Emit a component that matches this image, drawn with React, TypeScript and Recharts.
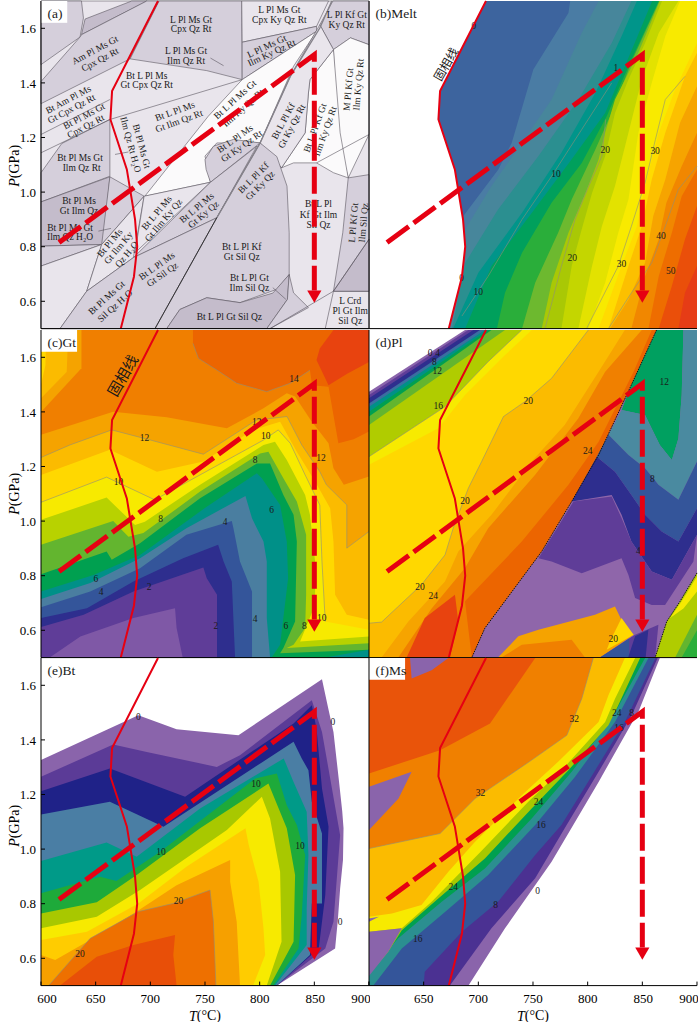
import React from "react";
import { Scatter, ScatterChart, XAxis, YAxis } from "recharts";

type Pt = [number, number];

const tempTicks = [600, 650, 700, 750, 800, 850, 900];
const pressTicks = [0.6, 0.8, 1.0, 1.2, 1.4, 1.6];

// solidus and the P-T path, same in all six panels
const solidus: Pt[] = [[707, 1.7], [665, 1.37], [663.5, 1.266], [678.5, 1.083], [686, 0.9], [688, 0.8], [685, 0.69], [673, 0.5]];
const ptPath: Pt[] = [[616.5, 0.815], [850, 1.503], [850, 0.64]];
const arrowHead: Pt[] = [[843.5, 0.64], [856.5, 0.64], [850, 0.595]];

const LIGHT = "#e9e5ec";
const MID = "#d5cfdb";
const DARK = "#c4bccb";
const WHITE = "#fbfafb";

// (a) pseudosection fields
const phaseFields: Pt[][] = [
  [[600, 1.7], [900, 1.7], [900, 0.5], [600, 0.5]],
  [[600, 1.7], [637, 1.7], [638.8, 1.638], [635.7, 1.568], [600, 1.467]],
  [[637, 1.577], [640.3, 1.634], [683, 1.7], [697, 1.7]],
  [[600, 1.405], [635.7, 1.568], [637.2, 1.577], [696.7, 1.7], [708, 1.7], [681.5, 1.488], [600, 1.324]],
  [[708, 1.7], [783.6, 1.7], [784, 1.412], [751.6, 1.445], [681.5, 1.488]],
  [[783.6, 1.7], [863, 1.7], [852, 1.607], [784, 1.549]],
  [[784, 1.549], [852, 1.607], [852, 1.589], [784, 1.412]],
  [[784, 1.412], [852, 1.589], [831, 1.461], [800.4, 1.18], [760.8, 1.18], [750, 1.132], [755, 1.036], [695, 0.985], [753, 1.278]],
  [[800.4, 1.18], [776, 1.193], [757.7, 1.168], [750, 1.119], [751, 1.083], [755, 1.036]],
  [[867, 1.7], [900, 1.7], [900, 1.54], [883, 1.565], [867.5, 1.522], [855, 1.613]],
  [[867.5, 1.522], [883, 1.565], [900, 1.54], [900, 1.211], [881, 1.052], [870.5, 1.217]],
  [[846, 1.412], [867.5, 1.522], [873.6, 1.217], [881, 1.052], [867.5, 1.071], [852, 1.107], [831, 1.107], [820, 1.089], [841.6, 1.217], [844.6, 1.363]],
  [[828, 1.424], [855, 1.613], [867.5, 1.522], [846, 1.412], [844.6, 1.363], [841.6, 1.217], [820, 1.089], [800.4, 1.18]],
  [[600, 1.071], [619, 1.178], [663, 1.266], [663, 1.058], [600, 0.964]],
  [[600, 0.964], [663, 1.056], [657, 0.808], [600, 0.802]],
  [[600, 0.802], [655.5, 0.808], [600, 0.729]],
  [[663, 1.056], [694.3, 0.985], [655.5, 0.808]],
  [[600, 0.729], [655.5, 0.808], [641.8, 0.637], [617.4, 0.5], [600, 0.5]],
  [[655.5, 0.808], [694.3, 0.985], [684.5, 0.76], [641.8, 0.637]],
  [[694.3, 0.985], [755, 1.036], [686, 0.778]],
  [[755, 1.036], [797.4, 1.168], [760.8, 0.906], [684.5, 0.76]],
  [[800.4, 1.18], [820, 1.089], [760.8, 0.906]],
  [[617.4, 0.5], [641.8, 0.637], [684.5, 0.76], [760.8, 0.906], [704.3, 0.5]],
  [[800.4, 1.18], [815.7, 1.13], [825, 1.022], [827, 0.851], [827, 0.698], [815.7, 0.644], [782, 0.595], [751.6, 0.613], [727, 0.57], [715, 0.5], [704.3, 0.5], [760.8, 0.906]],
  [[715, 0.5], [727, 0.57], [751.6, 0.613], [782, 0.595], [812, 0.63], [827, 0.698], [825.4, 0.607], [806.5, 0.5]],
  [[827, 0.698], [831, 0.631], [844.6, 0.577], [809.5, 0.5], [806.5, 0.5], [825.4, 0.607]],
  [[867.5, 0.637], [900, 0.637], [900, 0.5], [860, 0.5]],
  [[881, 1.052], [900, 1.064], [900, 0.637], [867.5, 0.637], [876, 0.851]],
  [[900, 0.827], [867.5, 0.637], [900, 0.637]],
];
const phaseFills = [LIGHT, MID, DARK, MID, MID, LIGHT, MID, WHITE, MID, MID, WHITE, WHITE, LIGHT, MID, DARK, MID, MID, LIGHT, LIGHT, LIGHT, MID, MID, MID, MID, DARK, MID, LIGHT, MID, DARK];
const phaseLines: Pt[][] = [
  [[809.5, 0.5], [867.5, 0.637], [900, 0.827]],
  [[900, 1.211], [852, 1.107]],
  [[600, 1.144], [663, 1.266], [784, 1.412]],
  [[600, 1.211], [663, 1.339]],
  [[755, 1.491], [767, 1.463]],
  [[667.7, 1.138], [680, 1.147]],
  [[652.5, 0.857], [664, 0.867]],
  [[812, 0.65], [824, 0.607]],
];
const kySilLine: Pt[] = [[866, 1.7], [855, 1.601], [828, 1.424], [800.4, 1.18], [760.8, 0.906]];
const kySilLower: Pt[] = [[760.8, 0.906], [704.3, 0.5]];

type Lab = { text: string; t: number; p: number; rot?: number };

const phaseLabels: Lab[] = [
  { text: "L Pl Ms Gt", t: 737.3, p: 1.632 }, { text: "Cpx Qz Rt", t: 737.3, p: 1.598 },
  { text: "L Pl Ms Gt", t: 818, p: 1.668 }, { text: "Cpx Ky Qz Rt", t: 818, p: 1.629 },
  { text: "L Pl Kf Gt", t: 879.7, p: 1.648 }, { text: "Ky Qz Rt", t: 879.7, p: 1.611 },
  { text: "Am Pl Ms Gt", t: 649.4, p: 1.52, rot: -28 }, { text: "Cpx Qz Rt", t: 654, p: 1.485, rot: -28 },
  { text: "L Pl Ms Gt", t: 732.7, p: 1.516 }, { text: "Ilm Qz Rt", t: 732.7, p: 1.479 },
  { text: "L Pl Ms Gt", t: 806.5, p: 1.534, rot: -25 }, { text: "Ilm Ky Qz Rt", t: 811, p: 1.51, rot: -25 },
  { text: "Bt L Pl Ms", t: 696.7, p: 1.427 }, { text: "Gt Cpx Qz Rt", t: 696.7, p: 1.394 },
  { text: "Bt Am Pl Ms", t: 625, p: 1.339, rot: -28 }, { text: "Gt Cpx Qz Rt", t: 628, p: 1.305, rot: -28 },
  { text: "Bt Pl Ms Gt", t: 639.4, p: 1.278, rot: -28 }, { text: "Cpx Qz Rt", t: 641, p: 1.241, rot: -28 },
  { text: "Bt L Pl Ms", t: 722.6, p: 1.296, rot: -20 }, { text: "Gt Ilm Qz Rt", t: 726.3, p: 1.26, rot: -20 },
  { text: "Bt Pl Ms Gt", t: 692, p: 1.168, rot: 75 }, { text: "Ilm Qz Rt H₂O", t: 682, p: 1.174, rot: 75 },
  { text: "Bt Pl Ms Gt", t: 635.7, p: 1.126 }, { text: "Ilm Qz Rt", t: 637.2, p: 1.089 },
  { text: "Bt L Pl Ms Gt", t: 777.5, p: 1.339, rot: -42 }, { text: "Ilm Ky Qz Rt", t: 785, p: 1.308, rot: -42 },
  { text: "Bt L Pl Ms", t: 777.5, p: 1.195, rot: -35 }, { text: "Gt Ky Qz Rt", t: 783.6, p: 1.168, rot: -35 },
  { text: "Bt L Pl Kf", t: 821.7, p: 1.26, rot: -62 }, { text: "Gt Ky Qz Rt", t: 829.4, p: 1.241, rot: -62 },
  { text: "Bt L Pl Kf Gt", t: 850.7, p: 1.235, rot: -70 }, { text: "Ilm Ky Qz Rt", t: 860, p: 1.223, rot: -70 },
  { text: "M Pl Kf Gt", t: 881.2, p: 1.376, rot: -85 }, { text: "Ilm Ky Qz Rt", t: 890.4, p: 1.394, rot: -85 },
  { text: "Bt L Pl Kf", t: 794.3, p: 1.052, rot: -45 }, { text: "Gt Ky Qz", t: 800.4, p: 1.024, rot: -45 },
  { text: "Bt L Pl Ms", t: 742.5, p: 0.942, rot: -40 }, { text: "Gt Ky Qz", t: 748.6, p: 0.918, rot: -40 },
  { text: "Bt L Pl Ms", t: 705.9, p: 0.924, rot: -50 }, { text: "Gt Ilm Ky Qz", t: 712, p: 0.897, rot: -50 },
  { text: "Bt Pl Ms", t: 634.8, p: 0.967 }, { text: "Gt Ilm Qz", t: 634.8, p: 0.93 },
  { text: "Bt Pl Ms Gt", t: 626.6, p: 0.869 }, { text: "Ilm Qz H₂O", t: 626.6, p: 0.835 },
  { text: "Bt Pl Ms", t: 663, p: 0.814, rot: -50 }, { text: "Gt Ilm Ky", t: 670.8, p: 0.796, rot: -50 }, { text: "Qz H₂O", t: 678.4, p: 0.772, rot: -50 },
  { text: "Bt L Pl", t: 853.8, p: 0.955 }, { text: "Kf Gt Ilm", t: 853.8, p: 0.916 }, { text: "Sil Qz", t: 853.8, p: 0.879 },
  { text: "L Pl Kf Gt", t: 885.8, p: 0.888, rot: -85 }, { text: "Ilm Sil Qz", t: 895, p: 0.888, rot: -85 },
  { text: "Bt L Pl Kf", t: 783.6, p: 0.799 }, { text: "Gt Sil Qz", t: 783.6, p: 0.763 },
  { text: "Bt L Pl Gt", t: 790.6, p: 0.686 }, { text: "Ilm Sil Qz", t: 790.6, p: 0.65 },
  { text: "Bt L Pl Ms", t: 705.9, p: 0.729, rot: -35 }, { text: "Gt Sil Qz", t: 711, p: 0.698, rot: -35 },
  { text: "Bt Pl Ms Gt", t: 660, p: 0.613, rot: -42 }, { text: "Sil Qz H₂O", t: 667.7, p: 0.583, rot: -42 },
  { text: "Bt L Pl Gt Sil Qz", t: 772.3, p: 0.542 },
  { text: "L Crd", t: 882.8, p: 0.601 }, { text: "Pl Gt Ilm", t: 882.8, p: 0.564 }, { text: "Sil Qz", t: 882.8, p: 0.528 },
];

// (b) melt, each edge runs top to bottom, everything to its right gets the colour
const meltEdges: Pt[][] = [
  solidus,
  [[784, 1.7], [782.4, 1.656], [750.3, 1.449], [730.5, 1.18], [718.3, 1.083], [686.3, 0.912], [688, 0.8], [685, 0.69], [673, 0.5]],
  [[810, 1.7], [794.5, 1.583], [767, 1.339], [739.7, 1.18], [712, 1.022], [688, 0.863], [688, 0.8], [685, 0.69], [673, 0.5]],
  [[840, 1.7], [822, 1.546], [791.5, 1.339], [755, 1.132], [718, 0.936], [688, 0.741], [676, 0.5]],
  [[845, 1.7], [831, 1.571], [807, 1.363], [776, 1.144], [740, 0.924], [700, 0.705], [677, 0.5]],
  [[859, 1.7], [843, 1.546], [816, 1.29], [785.4, 1.12], [749, 0.924], [712, 0.729], [688, 0.5]],
  [[865, 1.7], [840, 1.485], [817.4, 1.278], [794.6, 1.107], [767, 0.961], [740, 0.778], [724.4, 0.631], [717, 0.5]],
  [[865.5, 1.7], [841, 1.485], [820.5, 1.278], [807, 1.156], [785.4, 0.973], [773, 0.851], [752, 0.668], [740, 0.5]],
  [[866, 1.7], [845, 1.498], [825, 1.339], [816, 1.217], [810, 1.119], [798, 0.997], [782.4, 0.851], [767, 0.668], [758, 0.5]],
  [[868, 1.7], [852.5, 1.546], [837.3, 1.412], [825, 1.29], [816, 1.132], [804, 0.997], [794.5, 0.863], [785.4, 0.729], [776, 0.5]],
  [[883, 1.7], [865, 1.583], [849.5, 1.412], [837.3, 1.217], [825, 1.022], [813, 0.875], [804, 0.729], [791.5, 0.5]],
  [[884.5, 1.7], [871, 1.571], [858.6, 1.4], [846.4, 1.217], [837.3, 0.973], [828, 0.851], [816, 0.668], [800.6, 0.5]],
  [[900, 1.546], [880, 1.376], [865, 1.217], [852.5, 1.022], [845, 0.875], [831, 0.729], [810, 0.5]],
  [[900, 1.51], [889, 1.424], [871, 1.217], [858.6, 1.046], [849.5, 0.875], [837.3, 0.729], [819, 0.5]],
  [[900, 1.388], [884.5, 1.254], [871, 1.046], [860, 0.912], [852.5, 0.741], [837.3, 0.607], [820.5, 0.5]],
  [[900, 1.217], [886, 1.095], [872, 0.961], [865, 0.827], [852.5, 0.692], [840, 0.5]],
  [[900, 1.083], [886, 0.985], [877, 0.851], [865, 0.692], [855.6, 0.5]],
  [[900, 0.949], [889, 0.827], [877, 0.656], [865, 0.5]],
  [[900, 0.729], [889, 0.631], [883, 0.5]],
];
const meltColors = ["#3d649e", "#4a7ca4", "#47869b", "#2b8f90", "#00958a", "#00a05c", "#2aae3a", "#6db92f", "#a9c805", "#c4d600", "#e3e200", "#f8ea00", "#ffdb00", "#fcc000", "#f6a400", "#f18700", "#ee6d00", "#ea4f0a", "#e63c16"];
const meltContours: Pt[][] = [
  [[822, 1.4], [794.5, 1.229], [767, 1.058], [740, 0.9], [709, 0.692], [685, 0.546]],
  [[816.5, 1.266], [813, 1.132], [801, 1.022], [788.5, 0.9], [776, 0.729], [761, 0.5]],
  [[889, 1.424], [871, 1.339], [862, 1.193], [852.5, 1.034], [840, 0.875], [828, 0.729], [799, 0.5]],
  [[900, 1.095], [883, 1.01], [871, 0.875], [858.6, 0.741], [840, 0.631], [819, 0.5]],
];
const meltLabels: Lab[] = [
  { text: "0", t: 696, p: 1.61 }, { text: "0", t: 684.8, p: 0.686 }, { text: "1", t: 825.7, p: 1.455 },
  { text: "10", t: 771, p: 1.068 }, { text: "10", t: 700, p: 0.635 }, { text: "20", t: 816, p: 1.156 },
  { text: "20", t: 786, p: 0.76 }, { text: "30", t: 861.7, p: 1.152 }, { text: "30", t: 831, p: 0.738 },
  { text: "40", t: 867, p: 0.839 }, { text: "50", t: 876, p: 0.711 },
];

// (c) garnet, painted outermost first
const gtShapes: Pt[][] = [
  [[600, 1.7], [900, 1.7], [900, 0.5], [600, 0.5]],
  [[600, 1.7], [637, 1.7], [637, 1.56], [600, 1.4]],
  [[600, 1.7], [625, 1.7], [623.5, 1.546], [600, 1.45]],
  [[600, 1.7], [605, 1.7], [604, 1.57], [600, 1.5]],
  [[739, 1.7], [739, 1.651], [744, 1.596], [761, 1.553], [779, 1.505], [806.5, 1.474], [828, 1.505], [846, 1.553], [848, 1.498], [863, 1.492], [867.5, 1.388], [872, 1.285], [886, 1.3], [900, 1.328], [900, 1.7]],
  [[867.5, 1.7], [855, 1.632], [852, 1.59], [863, 1.498], [880, 1.54], [900, 1.583], [900, 1.7]],
  [[600, 1.316], [666, 1.401], [715, 1.38], [770, 1.34], [803.5, 1.413], [824.8, 1.468], [832.4, 1.456], [847.7, 1.364], [863, 1.285], [867.5, 1.194], [877, 1.133], [900, 1.163], [900, 0.5], [600, 0.5]],
  [[600, 1.233], [626.5, 1.279], [664.7, 1.334], [700, 1.297], [748.5, 1.245], [797, 1.37], [825, 1.383], [838.5, 1.279], [855, 1.181], [861, 1.133], [879.7, 1.059], [879.7, 0.901], [900, 0.962], [900, 0.5], [600, 0.5]],
  [[600, 1.169], [663, 1.261], [706, 1.181], [748.5, 1.218], [794, 1.334], [818.7, 1.364], [834, 1.254], [850.7, 1.145], [864.5, 1.047], [867.5, 0.925], [869, 0.73], [879.7, 0.657], [900, 0.639], [900, 0.5], [600, 0.5]],
  [[600, 1.069], [660, 1.161], [704, 1.078], [803.5, 1.297], [817, 1.334], [828, 1.285], [841.6, 1.169], [855, 1.059], [857, 0.852], [860, 0.632], [900, 0.602], [900, 0.5], [600, 0.5]],
  [[600, 1.005], [660, 1.086], [686, 0.986], [695, 0.998], [745.5, 1.133], [803.5, 1.279], [814, 1.291], [824.8, 1.224], [841.6, 1.096], [846, 1.023], [850.7, 0.852], [850.7, 0.693], [837, 0.559], [900, 0.577], [900, 0.5], [600, 0.5]],
  [[600, 0.913], [666, 1.0], [680, 0.943], [693.6, 0.956], [745.5, 1.108], [800.4, 1.248], [808, 1.254], [821.7, 1.157], [834, 1.072], [842.5, 0.95], [842.5, 0.73], [841.6, 0.608], [831, 0.547], [824.8, 0.535], [900, 0.553], [900, 0.5], [600, 0.5]],
  [[600, 0.805], [660, 0.889], [664.7, 0.858], [690.6, 0.919], [745.5, 1.084], [797.4, 1.211], [809.5, 1.211], [821.7, 1.096], [831, 1.023], [834, 0.925], [832.4, 0.632], [821.7, 0.535], [818.7, 0.516], [900, 0.529], [900, 0.5], [600, 0.5]],
  [[600, 0.742], [648, 0.803], [690.6, 0.876], [751.6, 1.053], [797.4, 1.175], [802, 1.157], [818.7, 1.059], [824.8, 0.925], [826, 0.79], [818.7, 0.547], [811, 0.5], [600, 0.5]],
  [[860, 0.5], [900, 0.529], [900, 0.5]],
  [[600, 0.715], [645, 0.773], [690.6, 0.864], [733, 0.974], [787, 1.092], [793, 1.01], [803.5, 0.925], [806.5, 0.852], [806.5, 0.645], [809.5, 0.5], [600, 0.5]],
  [[600, 0.684], [645, 0.742], [690.6, 0.827], [733, 0.95], [774.5, 1.0], [776, 0.974], [782, 0.852], [793, 0.742], [793, 0.5], [600, 0.5]],
  [[600, 0.645], [642, 0.681], [684.5, 0.779], [730, 0.864], [762, 0.913], [767, 0.852], [774.5, 0.779], [777.5, 0.5], [600, 0.5]],
  [[600, 0.612], [639, 0.657], [684.5, 0.742], [748.5, 0.83], [751.6, 0.791], [761, 0.73], [761, 0.5], [600, 0.5]],
  [[608, 0.5], [636, 0.577], [684.5, 0.645], [722.6, 0.681], [724, 0.608], [729.6, 0.5]],
];
const gtColors = ["#f07f00", "#f5a300", "#fbbb00", "#ffd800", "#ec6500", "#e8430f", "#f5a300", "#fbbb00", "#ffd800", "#f7ea00", "#b8d200", "#63b52f", "#00a050", "#009088", "#009088", "#4a7ea0", "#34559a", "#2e2e8e", "#5f3d98", "#7f58a6"];
const gtContours: Pt[][] = [
  [[739, 1.651], [744, 1.596], [761, 1.553], [779, 1.505], [806.5, 1.474], [828, 1.505], [846, 1.553]],
  [[600, 1.233], [626.5, 1.279], [664.7, 1.334], [700, 1.297], [748.5, 1.245], [797, 1.37], [825, 1.383], [838.5, 1.279], [855, 1.181], [861, 1.133], [879.7, 1.059], [879.7, 0.901], [900, 0.962]],
  [[600, 1.069], [660, 1.161], [704, 1.078], [803.5, 1.297], [817, 1.334], [828, 1.285], [841.6, 1.169], [855, 1.059], [857, 0.852], [860, 0.632]],
];
const gtLabels: Lab[] = [
  { text: "14", t: 831.5, p: 1.519 }, { text: "12", t: 797.4, p: 1.362 }, { text: "12", t: 694.6, p: 1.303 },
  { text: "12", t: 856, p: 1.23 }, { text: "10", t: 805.6, p: 1.31 }, { text: "10", t: 670.8, p: 1.145 },
  { text: "10", t: 856.8, p: 0.645 }, { text: "8", t: 795.8, p: 1.222 }, { text: "8", t: 709.5, p: 1.008 },
  { text: "8", t: 841, p: 0.614 }, { text: "6", t: 811, p: 1.041 }, { text: "6", t: 650.3, p: 0.789 },
  { text: "6", t: 824, p: 0.614 }, { text: "4", t: 768.4, p: 0.996 }, { text: "4", t: 655, p: 0.742 },
  { text: "4", t: 795.8, p: 0.641 }, { text: "2", t: 699, p: 0.76 }, { text: "2", t: 760, p: 0.614 },
];

// (d) plagioclase
const plShapes: Pt[][] = [
  [[600, 1.474], [687.8, 1.7], [900, 1.7], [900, 0.5], [600, 0.5]],
  [[600, 1.462], [690.8, 1.7], [900, 1.7], [900, 0.5], [600, 0.5]],
  [[600, 1.45], [695.4, 1.7], [900, 1.7], [900, 0.5], [600, 0.5]],
  [[600, 1.431], [701.5, 1.7], [900, 1.7], [900, 0.5], [600, 0.5]],
  [[600, 1.419], [706, 1.7], [900, 1.7], [900, 0.5], [600, 0.5]],
  [[600, 1.401], [709, 1.7], [900, 1.7], [900, 0.5], [600, 0.5]],
  [[600, 1.383], [712, 1.7], [900, 1.7], [900, 0.5], [600, 0.5]],
  [[600, 1.352], [724.4, 1.7], [900, 1.7], [900, 0.5], [600, 0.5]],
  [[600, 1.236], [669.5, 1.419], [709, 1.584], [739.7, 1.7], [900, 1.7], [900, 0.5], [600, 0.5]],
  [[600, 1.206], [663.4, 1.34], [687.8, 1.462], [724.4, 1.608], [748.8, 1.7], [900, 1.7], [900, 0.5], [600, 0.5]],
  [[800.6, 1.7], [767, 1.523], [742.7, 1.438], [723, 1.383], [703, 1.218], [690.8, 1.12], [677, 0.974], [669.5, 0.876], [648, 0.767], [611.5, 0.63], [600, 0.626], [600, 0.5], [900, 0.5], [900, 1.7]],
  [[834, 1.7], [810, 1.547], [779, 1.352], [748.8, 1.218], [712, 1.023], [681.7, 0.889], [669.5, 0.779], [636, 0.632], [611.5, 0.5], [900, 0.5], [900, 1.7]],
  [[849.5, 1.7], [816, 1.547], [791.5, 1.377], [752, 1.17], [709, 0.974], [687.8, 0.828], [657.3, 0.68], [626.8, 0.5], [900, 0.5], [900, 1.7]],
  [[858.6, 1.7], [842, 1.547], [810, 1.291], [782.4, 1.133], [739.7, 0.925], [687.8, 0.706], [694, 0.5], [900, 0.5], [900, 1.7]],
  [[678.6, 0.73], [651, 0.645], [634.4, 0.5], [674, 0.5], [681.7, 0.632]],
  [[863, 1.7], [840, 1.499], [810, 1.242], [785.4, 1.072], [758, 0.889], [706, 0.608], [694, 0.5], [900, 0.5], [900, 1.7]],
  [[863, 1.7], [887.6, 1.7], [886, 1.462], [883, 1.303], [877, 1.224], [866, 1.279], [852.5, 1.389], [831, 1.407], [840, 1.499]],
  [[831, 1.407], [852.5, 1.389], [866, 1.279], [877, 1.224], [883, 1.303], [886, 1.462], [887.6, 1.7], [900, 1.7], [900, 1.218], [883, 1.078], [864.7, 1.133], [852.5, 1.194], [837.3, 1.242], [819, 1.316]],
  [[819, 1.316], [837.3, 1.242], [852.5, 1.194], [864.7, 1.133], [883, 1.078], [900, 1.218], [900, 1.047], [883, 0.925], [867.7, 0.962], [852.5, 1.023], [840, 1.096], [825, 1.181], [808.3, 1.236]],
  [[808.3, 1.236], [825, 1.181], [840, 1.096], [852.5, 1.023], [867.7, 0.962], [883, 0.925], [900, 1.047], [900, 0.95], [877, 0.785], [858.6, 0.815], [840, 0.925], [831, 1.023], [822, 1.096], [785.4, 1.072]],
  [[787, 1.072], [822, 1.09], [831, 1.011], [840, 0.925], [858.6, 0.815], [877, 0.785], [900, 0.95], [896.7, 0.852], [870.8, 0.693], [858.6, 0.693], [843.4, 0.718], [837.3, 0.803], [831, 0.864], [794.6, 0.809], [767, 0.852], [755, 0.864]],
  [[900, 0.81], [884.5, 0.706], [872.3, 0.632], [861.7, 0.5], [900, 0.5]],
  [[900, 0.797], [886, 0.706], [875.4, 0.645], [887.6, 0.68], [900, 0.742]],
  [[900, 0.657], [880, 0.5], [900, 0.5]],
  [[900, 0.6], [886, 0.5], [900, 0.5]],
  [[718, 0.5], [736.6, 0.578], [755, 0.602], [806.7, 0.657], [825, 0.687], [833, 0.62], [842, 0.584], [811.3, 0.5]],
  [[831, 0.645], [842, 0.584], [817.4, 0.529], [820.5, 0.56]],
  [[721, 0.5], [739.7, 0.547], [785.4, 0.565], [797.6, 0.5]],
  [[811.3, 0.5], [843.4, 0.584], [864.7, 0.62], [861.7, 0.5]],
  [[811.3, 0.5], [838, 0.57], [838, 0.5]],
  [[837, 0.5], [843.4, 0.578], [855.5, 0.602], [853, 0.5]],
];
const plColors = ["#8a64ab", "#5f3d98", "#2e2e8e", "#3a6fa0", "#009088", "#00a050", "#63b52f", "#b0cc00", "#f7ea00", "#ffd800", "#fbbb00", "#f6a400", "#f08000", "#ec6500", "#e8430f", "#8f66aa", "#00a060", "#4a8aa0", "#34559a", "#2e2e8e", "#5f3d98", "#b0cc00", "#f7ea00", "#63b52f", "#2aae3a", "#f5a300", "#ffd800", "#f08000", "#5f3d98", "#34559a", "#2e2e8e"];
const plContours: Pt[][] = [
  [[600, 1.236], [669.5, 1.419], [709, 1.584], [739.7, 1.7]],
  [[800.6, 1.7], [767, 1.523], [742.7, 1.438], [723, 1.383], [703, 1.218], [690.8, 1.12], [677, 0.974], [669.5, 0.876], [648, 0.767], [611.5, 0.63], [600, 0.626]],
];
const plDotted: Pt[][] = [
  [[863, 1.7], [840, 1.499], [810, 1.242], [785.4, 1.072], [758, 0.889], [706, 0.608], [694, 0.5]],
  [[900, 0.81], [884.5, 0.706], [872.3, 0.632], [861.7, 0.5]],
];
const plLabels: Lab[] = [
  { text: "0", t: 655.8, p: 1.617 }, { text: "4", t: 662.8, p: 1.617 }, { text: "8", t: 659.7, p: 1.582 },
  { text: "12", t: 662.5, p: 1.55 }, { text: "16", t: 663.4, p: 1.422 }, { text: "20", t: 745.7, p: 1.441 },
  { text: "20", t: 687.8, p: 1.072 }, { text: "20", t: 646.6, p: 0.76 }, { text: "24", t: 658.8, p: 0.724 },
  { text: "24", t: 800, p: 1.258 }, { text: "12", t: 870, p: 1.511 }, { text: "8", t: 859.2, p: 1.153 },
  { text: "4", t: 846.4, p: 0.891 }, { text: "20", t: 823.5, p: 0.569 },
];

// (e) biotite
const btShapes: Pt[][] = [
  [[600, 1.326], [689, 1.49], [724, 1.439], [780.6, 1.417], [857, 1.622], [862.5, 1.52], [867.5, 1.429], [872.5, 1.25], [875.5, 1.14], [876.7, 1.076], [876.2, 0.96], [873.6, 0.856], [871.5, 0.74], [869, 0.636], [815.7, 0.5], [600, 0.5]],
  [[600, 1.265], [666, 1.383], [696.7, 1.356], [760.8, 1.301], [782, 1.344], [847.7, 1.545], [857, 1.429], [864.5, 1.259], [873.6, 1.051], [867.5, 0.734], [860, 0.636], [815.7, 0.5], [600, 0.5]],
  [[600, 1.212], [663, 1.295], [731.8, 1.192], [831, 1.46], [847.7, 1.527], [852, 1.442], [857, 1.222], [863, 1.082], [860, 0.832], [854, 0.636], [815.7, 0.5], [600, 0.5]],
  [[600, 1.127], [663, 1.173], [712, 1.082], [831, 1.393], [838.5, 1.332], [844.6, 1.289], [847.7, 1.173], [857, 1.057], [857, 0.801], [847.7, 0.801], [846, 0.612], [815.7, 0.5], [600, 0.5]],
  [[600, 0.956], [660, 1.024], [687.5, 0.972], [745.5, 1.149], [822, 1.332], [831, 1.246], [843, 1.137], [844.6, 0.978], [843, 0.783], [843, 0.649], [814, 0.5], [600, 0.5]],
  [[600, 0.838], [654, 0.899], [669, 0.883], [709, 0.99], [796, 1.259], [815.7, 1.277], [824.8, 1.161], [834, 1.088], [841.6, 0.978], [838.5, 0.758], [835.5, 0.636], [812.6, 0.5], [600, 0.5]],
  [[600, 0.764], [651, 0.805], [687.5, 0.905], [745.5, 1.076], [808, 1.24], [824.8, 1.076], [832.4, 0.905], [831, 0.661], [809.5, 0.5], [600, 0.5]],
  [[600, 0.71], [651, 0.752], [690.6, 0.85], [770, 1.07], [802, 1.192], [809.5, 1.112], [818.7, 0.917], [820, 0.661], [806.5, 0.5], [600, 0.5]],
  [[600, 0.667], [642, 0.697], [689, 0.801], [733, 0.935], [787, 1.076], [790, 1.015], [799, 0.88], [803.5, 0.71], [805, 0.612], [794, 0.5], [600, 0.5]],
  [[600, 0.612], [613, 0.594], [645, 0.667], [687.5, 0.771], [724, 0.868], [773, 0.96], [773, 0.88], [779, 0.734], [782, 0.5], [600, 0.5]],
  [[607, 0.5], [623.5, 0.575], [645, 0.673], [689, 0.771], [721, 0.801], [754.6, 0.85], [757.7, 0.734], [760, 0.5]],
  [[617.4, 0.5], [651, 0.606], [684.5, 0.649], [722.6, 0.685], [721, 0.612], [724, 0.5]],
];
const btColors = ["#8a64ab", "#5b3b97", "#1f2288", "#4a7ea4", "#009a88", "#1eaa3a", "#a8c800", "#f7ea00", "#ffcc00", "#f6a000", "#ee7000", "#e84f08"];
const btContours: Pt[][] = [
  [[607, 0.5], [623.5, 0.575], [645, 0.673], [689, 0.771], [721, 0.801], [754.6, 0.85], [757.7, 0.734], [760, 0.5]],
];
const btLabels: Lab[] = [
  { text: "0", t: 689, p: 1.483 }, { text: "0", t: 867, p: 1.466 }, { text: "0", t: 873.6, p: 0.734 },
  { text: "10", t: 796.7, p: 1.237 }, { text: "10", t: 709.8, p: 0.99 }, { text: "10", t: 837, p: 1.012 },
  { text: "20", t: 725.7, p: 0.811 }, { text: "20", t: 635.7, p: 0.617 },
];

// (f) muscovite, each shape takes everything up and left of its edge
const msShapes: Pt[][] = [
  [[866, 1.7], [847, 1.509], [810, 1.246], [767, 0.954], [724.4, 0.71], [691, 0.5], [600, 0.5], [600, 1.7]],
  [[864, 1.7], [840.3, 1.49], [810, 1.283], [779, 1.076], [752, 0.893], [712, 0.71], [674, 0.5], [600, 0.5], [600, 1.7]],
  [[862, 1.7], [834, 1.466], [804, 1.27], [776, 1.088], [752, 0.978], [718, 0.807], [685, 0.697], [651, 0.551], [650, 0.5], [600, 0.5], [600, 1.7]],
  [[855.6, 1.7], [825, 1.466], [788.5, 1.265], [752, 1.088], [709, 0.905], [669.5, 0.77], [630, 0.636], [604, 0.5], [600, 0.5], [600, 1.7]],
  [[852.5, 1.7], [822, 1.478], [785.4, 1.283], [748.8, 1.112], [706, 0.929], [666.5, 0.807], [626.8, 0.673], [600, 0.55], [600, 1.7]],
  [[848, 1.7], [828, 1.527], [819, 1.454], [782.4, 1.289], [748.8, 1.149], [706, 0.966], [663.4, 0.819], [630, 0.703], [617.6, 0.624], [600, 0.54], [600, 1.7]],
  [[843.4, 1.7], [825, 1.551], [816, 1.466], [779, 1.301], [745.7, 1.173], [703, 0.994], [657.3, 0.807], [630, 0.71], [600, 0.697], [600, 1.7]],
  [[834, 1.7], [819, 1.564], [810, 1.466], [773, 1.32], [740, 1.198], [697, 1.027], [672.6, 0.917], [648, 0.795], [621, 0.764], [600, 0.752], [600, 1.7]],
  [[805.2, 1.7], [794.6, 1.551], [781, 1.417], [748.8, 1.326], [697, 1.185], [665, 1.057], [600, 1.002], [600, 1.7]],
  [[752, 1.7], [710.7, 1.46], [665, 1.362], [600, 1.277], [600, 1.7]],
  [[637.5, 1.7], [672.6, 1.7], [657.3, 1.655], [639, 1.625]],
  [[600, 1.228], [639, 1.283], [627, 1.185], [600, 1.07]],
  [[600, 0.697], [630, 0.71], [617.6, 0.624], [600, 0.535]],
  [[600, 0.746], [609, 0.752], [600, 0.734]],
];
const msColors = ["#8a64ab", "#4b3192", "#34559a", "#2b8f90", "#00a050", "#a8c800", "#f7ea00", "#fbbb00", "#f08000", "#e9540a", "#8a64ab", "#8a64ab", "#8a64ab", "#8a64ab"];
const msContours: Pt[][] = [
  [[805.2, 1.7], [794.6, 1.551], [781, 1.417], [748.8, 1.326], [697, 1.185], [665, 1.057], [600, 1.002]],
];
const msLabels: Lab[] = [
  { text: "32", t: 787.8, p: 1.475 }, { text: "32", t: 702, p: 1.206 }, { text: "24", t: 826.6, p: 1.5 },
  { text: "24", t: 755, p: 1.173 }, { text: "24", t: 677, p: 0.86 }, { text: "16", t: 828.7, p: 1.444 },
  { text: "16", t: 757.3, p: 1.09 }, { text: "16", t: 644.5, p: 0.669 }, { text: "8", t: 715.9, p: 0.797 },
  { text: "8", t: 840.3, p: 1.5 }, { text: "0", t: 754.3, p: 0.847 },
];

const SERIF = "Liberation Serif, Times New Roman, Times";
const RED = "#e60012";

const toRows = (pts: Pt[]) => pts.map(([t, p]) => ({ t, p }));
const closeRight = (edge: Pt[]): Pt[] =>
  edge[0][1] >= 1.7 ? [...edge, [900, 0.5], [900, 1.7]] : [...edge, [900, 0.5]];

const NoMark = () => null;

// Scatter hands its scaled points to `line`, which lets us fill them as a polygon
function shape(key: string, pts: Pt[], style: React.SVGProps<SVGPathElement>, closed = true) {
  const draw = (lp: any) => {
    const d = lp.points.map((q: any, i: number) => `${i ? "L" : "M"}${q.x} ${q.y}`).join("") + (closed ? "Z" : "");
    return <path d={d} {...style} />;
  };
  const extra: any = { zIndex: 100 };
  return (
    <Scatter key={key} data={toRows(pts)} line={draw} shape={NoMark} isAnimationActive={false} {...extra} />
  );
}

function labelSeries(key: string, labels: Lab[], size: number) {
  const extra: any = { zIndex: 100 };
  const draw = (props: any) => {
    const row = props.payload;
    return (
      <text
        x={props.cx}
        y={props.cy}
        textAnchor="middle"
        dominantBaseline="central"
        fontSize={size}
        fill="#1a1a1a"
        style={{ fontFamily: SERIF }}
        transform={row.rot ? `rotate(${row.rot} ${props.cx} ${props.cy})` : undefined}
      >
        {row.text}
      </text>
    );
  };
  return <Scatter key={key} data={labels} shape={draw} isAnimationActive={false} {...extra} />;
}

function XTick({ x, y, payload, first }: any) {
  if (payload.value === 600 && !first) return null;
  let dx = 0;
  if (payload.value === 600) dx = 6;
  if (payload.value === 900) dx = -8;
  if (payload.value === 850) dx = 1;
  return (
    <text x={x + dx} y={y + 17} textAnchor="middle" dominantBaseline="central" fontSize={13} fill="#000" style={{ fontFamily: SERIF }}>
      {payload.value}
    </text>
  );
}

function PTitle({ viewBox, shift }: any) {
  const cy = viewBox.y + viewBox.height / 2 + (shift || 0);
  return (
    <text x={14} y={cy} textAnchor="middle" dominantBaseline="central" fontSize={14} fill="#000" style={{ fontFamily: SERIF }} transform={`rotate(-90 14 ${cy})`}>
      <tspan fontStyle="italic">P</tspan>(GPa)
    </text>
  );
}

function TTitle({ viewBox }: any) {
  return (
    <text x={viewBox.x + viewBox.width / 2} y={viewBox.y + 30} textAnchor="middle" dominantBaseline="central" fontSize={14} fill="#000" style={{ fontFamily: SERIF }}>
      <tspan fontStyle="italic">T</tspan>(°C)
    </text>
  );
}

type PanelProps = {
  left: number;
  top: number;
  title: string;
  boxWidth?: number;
  layers: React.ReactNode[];
  labels: Lab[];
  solidusNote?: Lab;
  noteSize?: number;
  showP?: boolean;
  showT?: boolean;
  pShift?: number;
};

function Panel({ left, top, title, boxWidth, layers, labels, solidusNote, noteSize, showP, showT, pShift }: PanelProps) {
  const axisLine = { stroke: "#000", strokeWidth: 1 };
  const titleRow: Lab[] = [{ text: title, t: 606, p: 1.655 }];
  const titleDraw = (props: any) => (
    <text x={props.cx} y={props.cy} dominantBaseline="central" fontSize={13.5} fill="#1a1a1a" style={{ fontFamily: SERIF }}>
      {props.payload.text}
    </text>
  );
  const noteDraw = (props: any) => (
    <text
      x={props.cx}
      y={props.cy}
      textAnchor="middle"
      dominantBaseline="central"
      fontSize={noteSize}
      fill="#1a1a1a"
      style={{ fontFamily: "Noto Sans CJK SC" }}
      transform={`rotate(-60 ${props.cx} ${props.cy})`}
    >
      {props.payload.text}
    </text>
  );
  const extra: any = { zIndex: 100 };
  return (
    <div style={{ position: "absolute", left: left - 41, top: top - 2 }}>
      <ScatterChart width={370} height={366.6} margin={{ top: 2, right: 1, bottom: 0, left: 0 }}>
        <XAxis
          xAxisId={0}
          dataKey="t"
          type="number"
          orientation="bottom"
          domain={[600, 900]}
          ticks={tempTicks}
          height={37}
          tickSize={-4}
          tickMargin={0}
          interval={0}
          axisLine={axisLine}
          tickLine={axisLine}
          tick={showT ? <XTick first={showP} /> : false}
          label={showT ? { content: <TTitle /> } : undefined}
        />
        <XAxis xAxisId="top" type="number" orientation="top" domain={[600, 900]} ticks={tempTicks} height={0} tickSize={-4} interval={0} axisLine={axisLine} tickLine={axisLine} tick={false} />
        <YAxis
          yAxisId={0}
          dataKey="p"
          type="number"
          orientation="left"
          domain={[0.5, 1.7]}
          ticks={pressTicks}
          width={41}
          tickSize={-4}
          tickMargin={9}
          interval={0}
          axisLine={axisLine}
          tickLine={axisLine}
          tick={showP ? { fontSize: 13, fill: "#000", style: { fontFamily: SERIF } } : false}
          tickFormatter={(v: number) => v.toFixed(1)}
          label={showP ? { content: <PTitle shift={pShift} /> } : undefined}
        />
        <YAxis yAxisId="right" type="number" orientation="right" domain={[0.5, 1.7]} ticks={pressTicks} width={0} tickSize={-4} interval={0} axisLine={axisLine} tickLine={axisLine} tick={false} />
        {layers}
        {labelSeries("labels", labels, 9.5)}
        {solidusNote && <Scatter key="note" data={[solidusNote]} shape={noteDraw} isAnimationActive={false} {...extra} />}
        {shape("solidus", solidus, { fill: "none", stroke: RED, strokeWidth: 2 }, false)}
        {shape("path", ptPath, { fill: "none", stroke: RED, strokeWidth: 5, strokeDasharray: "27 6" }, false)}
        {shape("head", arrowHead, { fill: RED })}
        {boxWidth && shape("box", [[600, 1.7], [600 + boxWidth, 1.7], [600 + boxWidth, 1.62], [600, 1.62]], { fill: "#fff" })}
        <Scatter key="title" data={titleRow} shape={titleDraw} isAnimationActive={false} {...extra} />
      </ScatterChart>
    </div>
  );
}

const thin = { fill: "none", stroke: "#8f8f78", strokeWidth: 0.6 };

const phaseLayers = [
  ...phaseFields.map((f, i) => shape(`f${i}`, f, { fill: phaseFills[i], stroke: "#5a5560", strokeWidth: 0.6 })),
  ...phaseLines.map((l, i) => shape(`l${i}`, l, { fill: "none", stroke: "#5a5560", strokeWidth: 0.6 }, false)),
  shape("kys", kySilLine, { fill: "none", stroke: "#85828a", strokeWidth: 1.4 }, false),
  shape("kys2", kySilLower, { fill: "none", stroke: "#222", strokeWidth: 0.8 }, false),
];
const meltLayers = [
  ...meltEdges.map((e, i) => shape(`m${i}`, closeRight(e), { fill: meltColors[i] })),
  ...meltContours.map((c, i) => shape(`mc${i}`, c, thin, false)),
];
const gtLayers = [
  ...gtShapes.map((s, i) => shape(`g${i}`, s, { fill: gtColors[i] })),
  ...gtContours.map((c, i) => shape(`gc${i}`, c, thin, false)),
];
const plLayers = [
  ...plShapes.map((s, i) => shape(`p${i}`, s, { fill: plColors[i] })),
  ...plContours.map((c, i) => shape(`pc${i}`, c, thin, false)),
  ...plDotted.map((c, i) => shape(`pd${i}`, c, { fill: "none", stroke: "#111", strokeWidth: 1, strokeDasharray: "1.5 1" }, false)),
];
const btLayers = [
  ...btShapes.map((s, i) => shape(`b${i}`, s, { fill: btColors[i] })),
  ...btContours.map((c, i) => shape(`bc${i}`, c, thin, false)),
];
const msLayers = [
  ...msShapes.map((s, i) => shape(`s${i}`, s, { fill: msColors[i] })),
  ...msContours.map((c, i) => shape(`sc${i}`, c, thin, false)),
];

export default function App() {
  return (
    <div style={{ position: "absolute", left: 0, top: 0, width: 700, height: 1022, background: "#fff", overflow: "hidden" }}>
      <Panel left={41} top={1.4} title="(a)" boxWidth={24} layers={phaseLayers} labels={phaseLabels} showP pShift={1} />
      <Panel left={369} top={1.4} title="(b)Melt" layers={meltLayers} labels={meltLabels} solidusNote={{ text: "固相线", t: 669.5, p: 1.47 }} noteSize={12} />
      <Panel left={41} top={329.7} title="(c)Gt" boxWidth={33} layers={gtLayers} labels={gtLabels} solidusNote={{ text: "固相线", t: 674, p: 1.535 }} noteSize={15} showP />
      <Panel left={369} top={329.7} title="(d)Pl" layers={plLayers} labels={plLabels} />
      <Panel left={41} top={657.7} title="(e)Bt" layers={btLayers} labels={btLabels} showP showT pShift={4} />
      <Panel left={369} top={657.7} title="(f)Ms" boxWidth={33} layers={msLayers} labels={msLabels} showT />
    </div>
  );
}
